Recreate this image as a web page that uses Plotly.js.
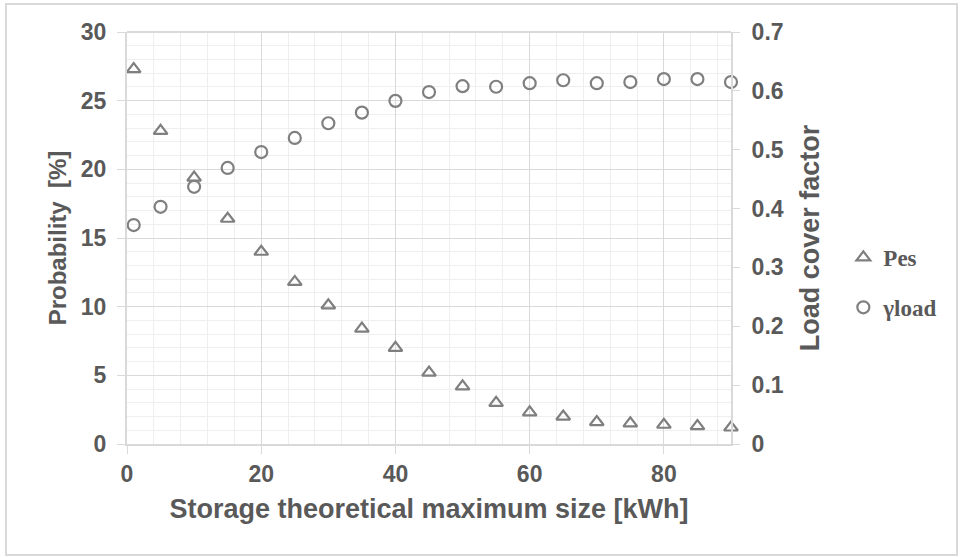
<!DOCTYPE html>
<html>
<head>
<meta charset="utf-8">
<script src="https://cdn.plot.ly/plotly-3.0.1.min.js"></script>
<style>
  html, body { margin: 0; padding: 0; background: #fff; }
  #wrap { position: relative; width: 961px; height: 557px; }
  #chart { width: 961px; height: 557px; }
  #frame { position: absolute; left: 5px; top: 3px; width: 949px; height: 549px; border: 2px solid #d9d9d9; pointer-events: none; }
</style>
</head>
<body>
<div id="wrap">
  <div id="chart"></div>
  <div id="frame"></div>
</div>
<script>
// Data
const storageSize = [1, 5, 10, 15, 20, 25, 30, 35, 40, 45, 50, 55, 60, 65, 70, 75, 80, 85, 90];
const pesValues = [27.3, 22.8, 19.4, 16.4, 14.0, 11.8, 10.1, 8.4, 7.0, 5.2, 4.2, 3.0, 2.3, 2.0, 1.6, 1.5, 1.4, 1.3, 1.2];
const loadCover = [0.372, 0.403, 0.437, 0.469, 0.496, 0.520, 0.545, 0.563, 0.583, 0.598, 0.608, 0.607, 0.613, 0.618, 0.613, 0.615, 0.620, 0.620, 0.615];
const seriesNames = ["Pes", "\u03b3load"];
const xTitle = "Storage theoretical maximum size [kWh]";
const yTitle = "Probability  [%]";
const y2Title = "Load cover factor";

const grey = "#7f7f7f";
const textGrey = "#595959";

const traces = [
  {
    x: storageSize, y: pesValues, name: seriesNames[0], type: "scatter", mode: "markers",
    legendgroup: "a", cliponaxis: false,
    marker: { symbol: "triangle-up-open", size: 12, color: grey, line: { color: grey, width: 2.2 } },
    yaxis: "y"
  },
  {
    x: storageSize, y: loadCover, name: seriesNames[1], type: "scatter", mode: "markers",
    legendgroup: "b", cliponaxis: false,
    marker: { symbol: "circle-open", size: 12, color: grey, line: { color: grey, width: 2.2 } },
    yaxis: "y2"
  }
];

const fam = "Liberation Sans, Arial, sans-serif";
const tickFont = { family: fam, size: 23, color: textGrey, weight: "bold" };

const layout = {
  width: 961, height: 557,
  margin: { l: 127, r: 230, t: 32, b: 113 },
  paper_bgcolor: "#ffffff", plot_bgcolor: "#ffffff",
  showlegend: true,
  legend: {
    x: 1.186, xanchor: "left", y: 0.505, yanchor: "top",
    font: { family: "Liberation Serif, Times New Roman, serif", size: 23, color: textGrey, weight: "bold" },
    tracegroupgap: 17, itemwidth: 30, bgcolor: "rgba(0,0,0,0)"
  },
  xaxis: {
    range: [0, 90], dtick: 20, tick0: 0,
    showgrid: true, gridcolor: "#d9d9d9", gridwidth: 1,
    minor: { dtick: 4, showgrid: true, gridcolor: "#efefef", gridwidth: 1 },
    showline: true, linecolor: "#d9d9d9", linewidth: 2, mirror: false,
    ticks: "outside", ticklen: 8, tickcolor: "#d9d9d9", tickwidth: 1,
    tickfont: tickFont, zeroline: false,
    title: { text: xTitle, font: { family: fam, size: 27, color: textGrey, weight: "bold" }, standoff: 14 }
  },
  yaxis: {
    range: [0, 30], dtick: 5, tick0: 0,
    showgrid: true, gridcolor: "#d9d9d9", gridwidth: 1,
    minor: { dtick: 1, showgrid: true, gridcolor: "#efefef", gridwidth: 1 },
    showline: true, linecolor: "#d9d9d9", linewidth: 2,
    ticks: "outside", ticklen: 8, tickcolor: "#d9d9d9", tickwidth: 1,
    ticklabelstandoff: 6,
    tickfont: tickFont, zeroline: false,
    title: { text: yTitle, font: { family: fam, size: 24, color: textGrey, weight: "bold" }, standoff: 7 }
  },
  yaxis2: {
    overlaying: "y", side: "right",
    range: [0, 0.7], dtick: 0.1, tick0: 0,
    showgrid: false,
    showline: true, linecolor: "#d9d9d9", linewidth: 2,
    ticks: "outside", ticklen: 7, tickcolor: "#d9d9d9", tickwidth: 1,
    ticklabelstandoff: 7,
    tickfont: tickFont, zeroline: false,
    title: { text: y2Title, font: { family: fam, size: 27, color: textGrey, weight: "bold" }, standoff: 17 }
  },
  shapes: [
    { type: "line", xref: "paper", yref: "paper", x0: 0, x1: 1, y0: 1, y1: 1, line: { color: "#d9d9d9", width: 2 } }
  ]
};

Plotly.newPlot("chart", traces, layout, { displayModeBar: false, staticPlot: true });
</script>
</body>
</html>
